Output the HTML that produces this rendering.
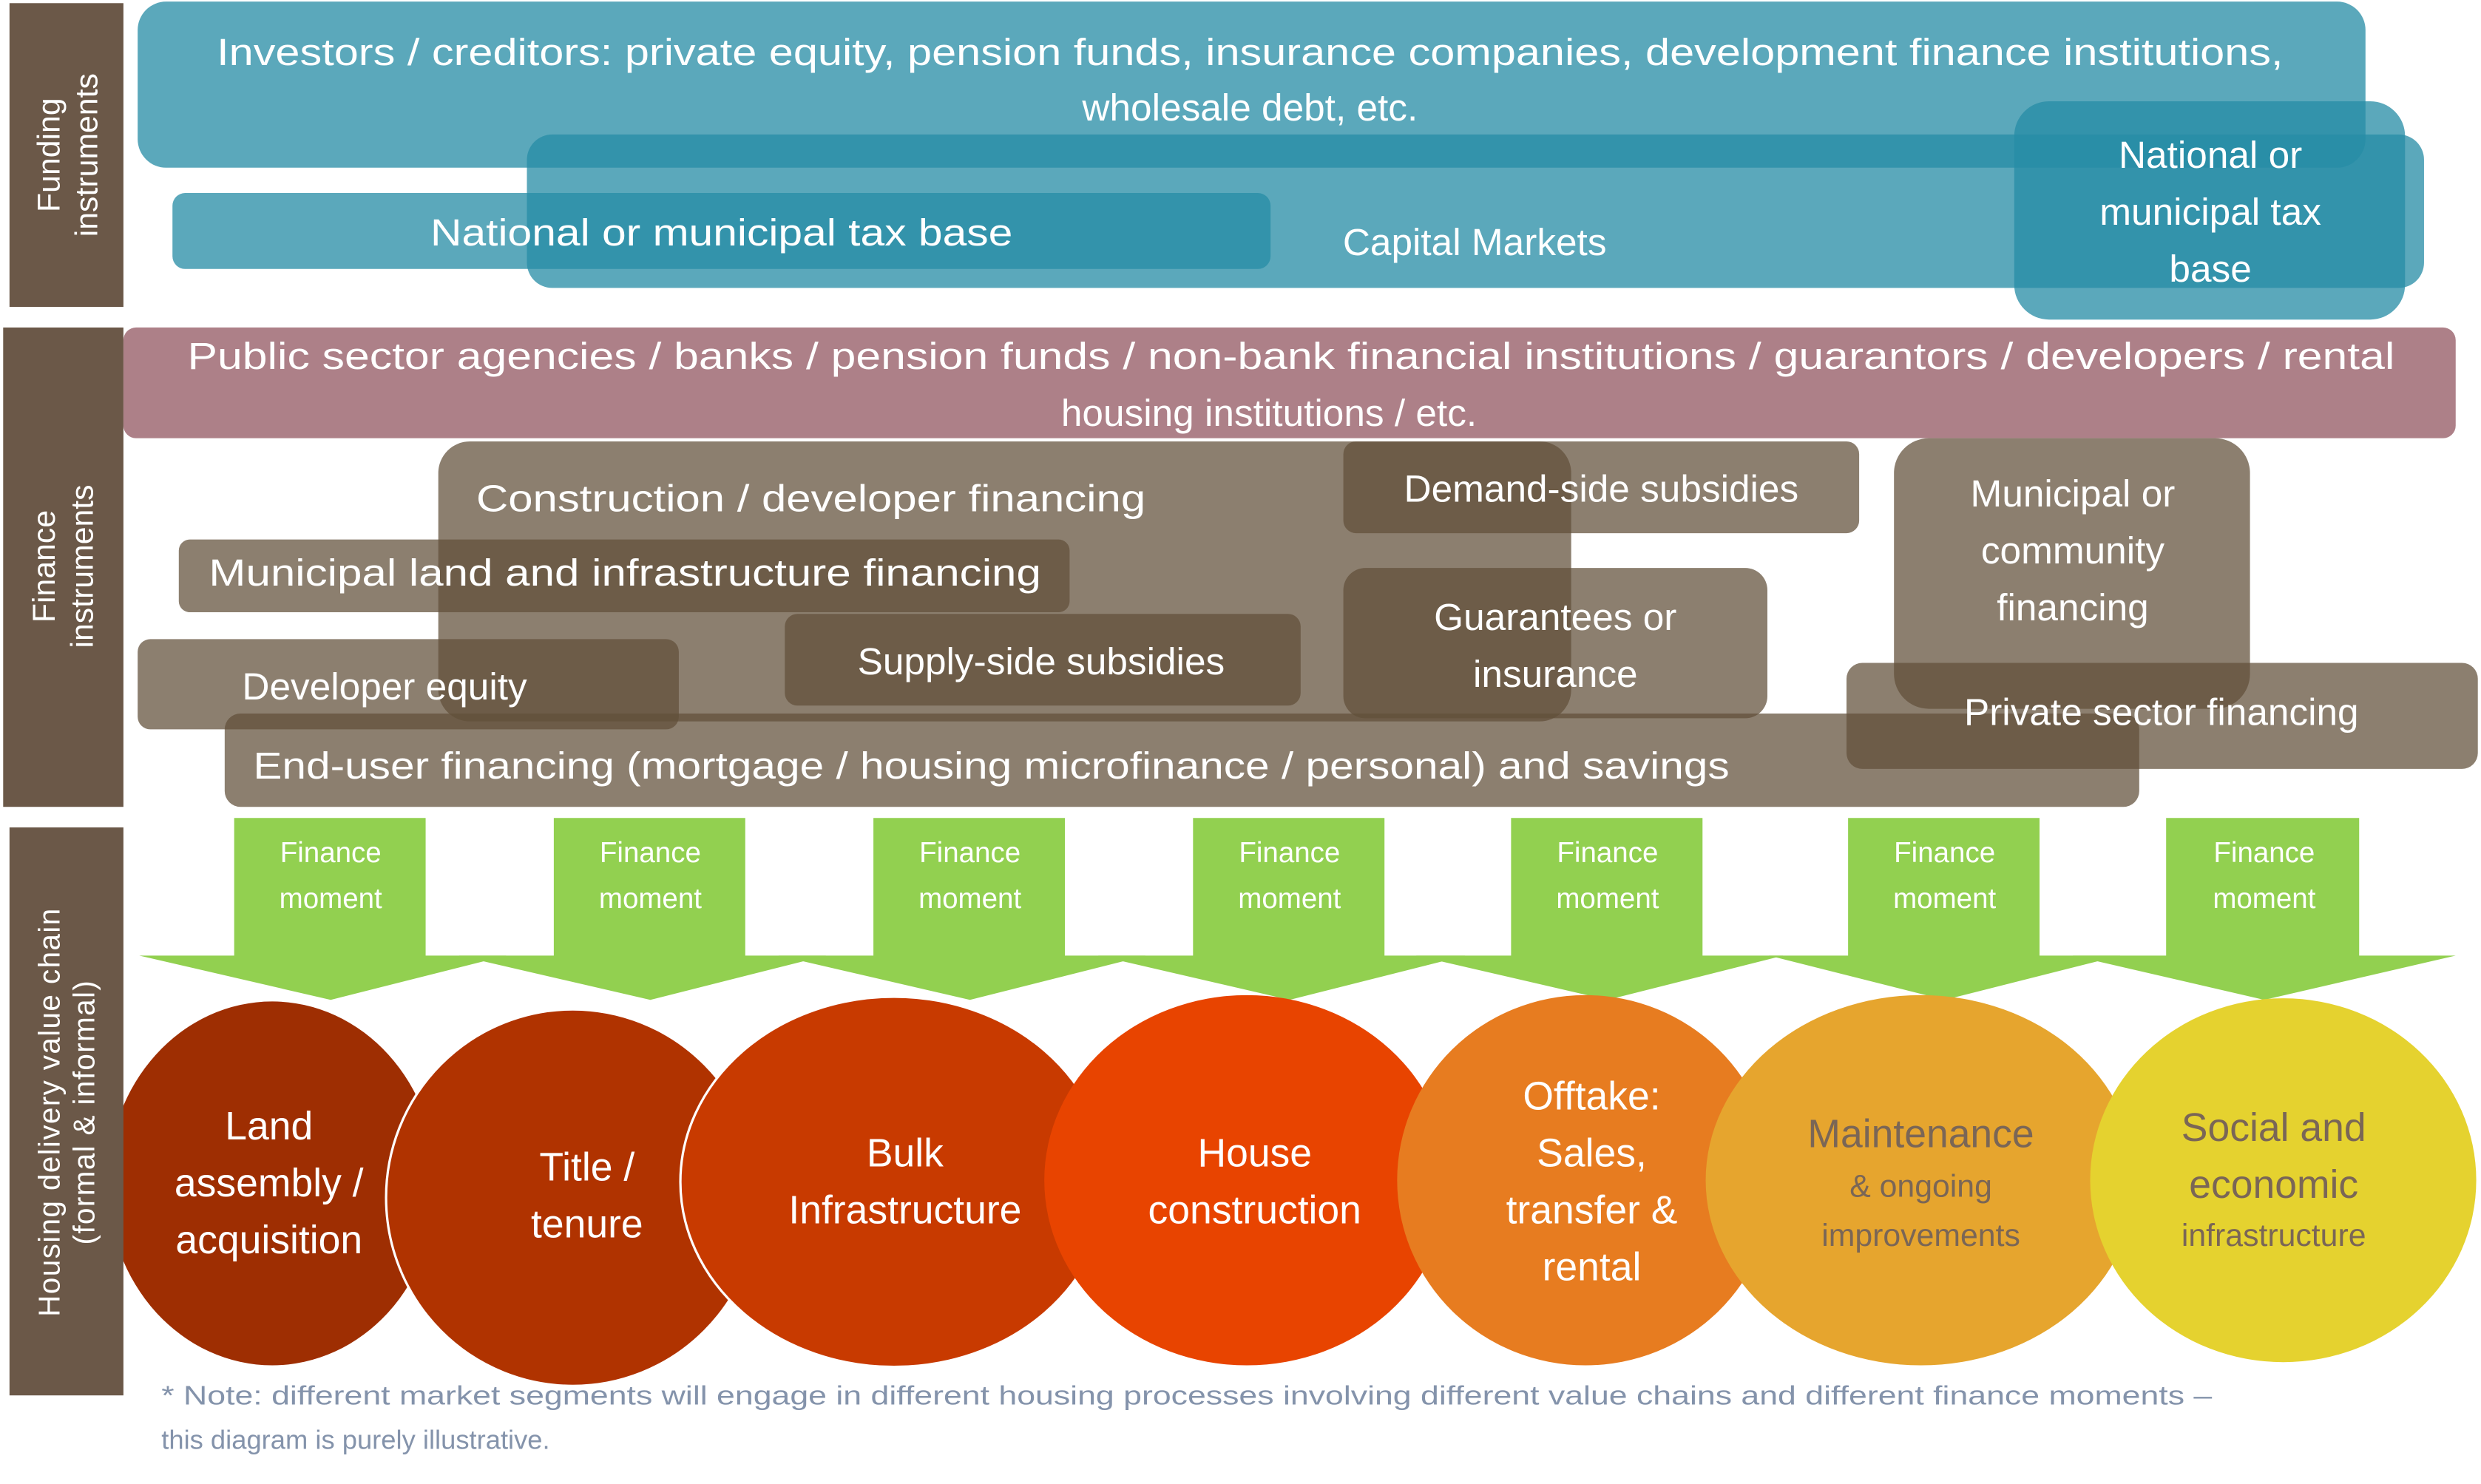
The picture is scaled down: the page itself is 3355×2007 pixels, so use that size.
<!DOCTYPE html>
<html><head><meta charset="utf-8"><style>
html,body{margin:0;padding:0;background:#fff;}
svg{display:block;}
text{font-family:"Liberation Sans",sans-serif;dominant-baseline:central;}
</style></head><body>
<svg width="3355" height="2007" viewBox="0 0 1568 938" xmlns="http://www.w3.org/2000/svg">
<!-- Funding -->
<rect x="87" y="1" width="1408" height="105" rx="18" fill="#5ba8bb"/>
<rect x="109" y="122" width="694" height="48" rx="8" fill="#5ba8bb"/>
<rect x="333" y="85" width="1199" height="97" rx="16" fill="rgba(38,140,165,0.756)"/>
<rect x="1273" y="64" width="247" height="138" rx="22" fill="rgba(38,140,165,0.756)"/>
<g fill="#fff" font-size="24" text-anchor="middle">
<text x="790" y="33" textLength="1306" lengthAdjust="spacingAndGlyphs">Investors / creditors: private equity, pension funds, insurance companies, development finance institutions,</text>
<text x="790" y="68">wholesale debt, etc.</text>
<text x="456" y="147" textLength="368" lengthAdjust="spacingAndGlyphs">National or municipal tax base</text>
<text x="932" y="153">Capital Markets</text>
<text x="1397" y="98">National or</text>
<text x="1397" y="134">municipal tax</text>
<text x="1397" y="170">base</text>
</g>
<!-- Finance -->
<rect x="78" y="207" width="1474" height="70" rx="8" fill="#ad8088"/>
<g fill="rgba(98,80,58,0.73)">
<rect x="277" y="279" width="716" height="177" rx="20"/>
<rect x="113" y="341" width="563" height="46" rx="7"/>
<rect x="849" y="279" width="326" height="58" rx="8"/>
<rect x="496" y="388" width="326" height="58" rx="8"/>
<rect x="849" y="359" width="268" height="95" rx="14"/>
<rect x="1197" y="277" width="225" height="171" rx="22"/>
<rect x="1167" y="419" width="399" height="67" rx="10"/>
<rect x="87" y="404" width="342" height="57" rx="8"/>
<rect x="142" y="451" width="1210" height="59" rx="10"/>
</g>
<g fill="#fff" font-size="24">
<text x="816" y="225" text-anchor="middle" textLength="1395" lengthAdjust="spacingAndGlyphs">Public sector agencies / banks / pension funds / non-bank financial institutions / guarantors / developers / rental</text>
<text x="802" y="261" text-anchor="middle">housing institutions / etc.</text>
<text x="301" y="315" textLength="423" lengthAdjust="spacingAndGlyphs">Construction / developer financing</text>
<text x="132" y="362" textLength="526" lengthAdjust="spacingAndGlyphs">Municipal land and infrastructure financing</text>
<text x="1012" y="309" text-anchor="middle">Demand-side subsidies</text>
<text x="658" y="418" text-anchor="middle">Supply-side subsidies</text>
<text x="983" y="390" text-anchor="middle">Guarantees or</text>
<text x="983" y="426" text-anchor="middle">insurance</text>
<text x="1310" y="312" text-anchor="middle">Municipal or</text>
<text x="1310" y="348" text-anchor="middle">community</text>
<text x="1310" y="384" text-anchor="middle">financing</text>
<text x="1366" y="450" text-anchor="middle">Private sector financing</text>
<text x="153" y="434">Developer equity</text>
<text x="160" y="484" textLength="933" lengthAdjust="spacingAndGlyphs">End-user financing (mortgage / housing microfinance / personal) and savings</text>
</g>
<!-- Arrows -->
<g fill="#92d050">
<polygon points="148,517 269,517 269,604 320,604 209,632 88,604 148,604"/>
<polygon points="350,517 471,517 471,604 522,604 411,632 290,604 350,604"/>
<polygon points="552,517 673,517 673,604 724,604 613,632 492,604 552,604"/>
<polygon points="754,517 875,517 875,604 926,604 815,632 694,604 754,604"/>
<polygon points="955,517 1076,517 1076,604 1127,604 1016,632 895,604 955,604"/>
<polygon points="1168,517 1289,517 1289,604 1340,604 1229,632 1118,604 1168,604"/>
<polygon points="1369,517 1491,517 1491,604 1552,604 1431,632 1310,604 1369,604"/>
</g>
<g fill="#fff" font-size="18" text-anchor="middle">
<text x="209" y="539">Finance</text><text x="209" y="568">moment</text>
<text x="411" y="539">Finance</text><text x="411" y="568">moment</text>
<text x="613" y="539">Finance</text><text x="613" y="568">moment</text>
<text x="815" y="539">Finance</text><text x="815" y="568">moment</text>
<text x="1016" y="539">Finance</text><text x="1016" y="568">moment</text>
<text x="1229" y="539">Finance</text><text x="1229" y="568">moment</text>
<text x="1431" y="539">Finance</text><text x="1431" y="568">moment</text>
</g>
<!-- Ellipses -->
<ellipse cx="172" cy="748" rx="104" ry="115" fill="#9e2e02"/>
<ellipse cx="362" cy="757" rx="118" ry="119" fill="#b03300" stroke="#fff" stroke-width="1.5"/>
<ellipse cx="565" cy="747" rx="135" ry="117" fill="#c83a00" stroke="#fff" stroke-width="1.5"/>
<ellipse cx="788" cy="746" rx="128" ry="117" fill="#e84400"/>
<ellipse cx="1002" cy="746" rx="119" ry="117" fill="#e77c20"/>
<ellipse cx="1214" cy="746" rx="136" ry="117" fill="#e6a52e"/>
<ellipse cx="1443" cy="746" rx="122" ry="115" fill="#e5d22f"/>
<g fill="#fff" font-size="25" text-anchor="middle">
<text x="170" y="712">Land</text><text x="170" y="748">assembly /</text><text x="170" y="784">acquisition</text>
<text x="371" y="738">Title /</text><text x="371" y="774">tenure</text>
<text x="572" y="729">Bulk</text><text x="572" y="765">Infrastructure</text>
<text x="793" y="729">House</text><text x="793" y="765">construction</text>
<text x="1006" y="693">Offtake:</text><text x="1006" y="729">Sales,</text><text x="1006" y="765">transfer &amp;</text><text x="1006" y="801">rental</text>
</g>
<g fill="#7a6656" text-anchor="middle">
<text x="1214" y="717" font-size="25">Maintenance</text>
<text x="1214" y="750" font-size="20">&amp; ongoing</text>
<text x="1214" y="781" font-size="20">improvements</text>
<text x="1437" y="713" font-size="25">Social and</text>
<text x="1437" y="749" font-size="25">economic</text>
<text x="1437" y="781" font-size="20">infrastructure</text>
</g>
<!-- Side labels -->
<rect x="6" y="2" width="72" height="192" fill="#6b5848"/>
<rect x="2" y="207" width="76" height="303" fill="#6b5848"/>
<rect x="6" y="523" width="72" height="359" fill="#6b5848"/>
<g fill="#fff" font-size="20" text-anchor="middle">
<text transform="translate(43,98) rotate(-90)"><tspan x="0" y="-12">Funding</tspan><tspan x="0" y="12">instruments</tspan></text>
<text transform="translate(40,358) rotate(-90)"><tspan x="0" y="-12">Finance</tspan><tspan x="0" y="12">instruments</tspan></text>
<text transform="translate(42,703) rotate(-90)" font-size="19" letter-spacing="0.6"><tspan x="0" y="-11">Housing delivery value chain</tspan><tspan x="0" y="11">(formal &amp; informal)</tspan></text>
</g>
<!-- Note -->
<g fill="#8493ab" font-size="17">
<text x="102" y="882" textLength="1296" lengthAdjust="spacingAndGlyphs">* Note: different market segments will engage in different housing processes involving different value chains and different finance moments –</text>
<text x="102" y="910">this diagram is purely illustrative.</text>
</g>
</svg>
</body></html>
